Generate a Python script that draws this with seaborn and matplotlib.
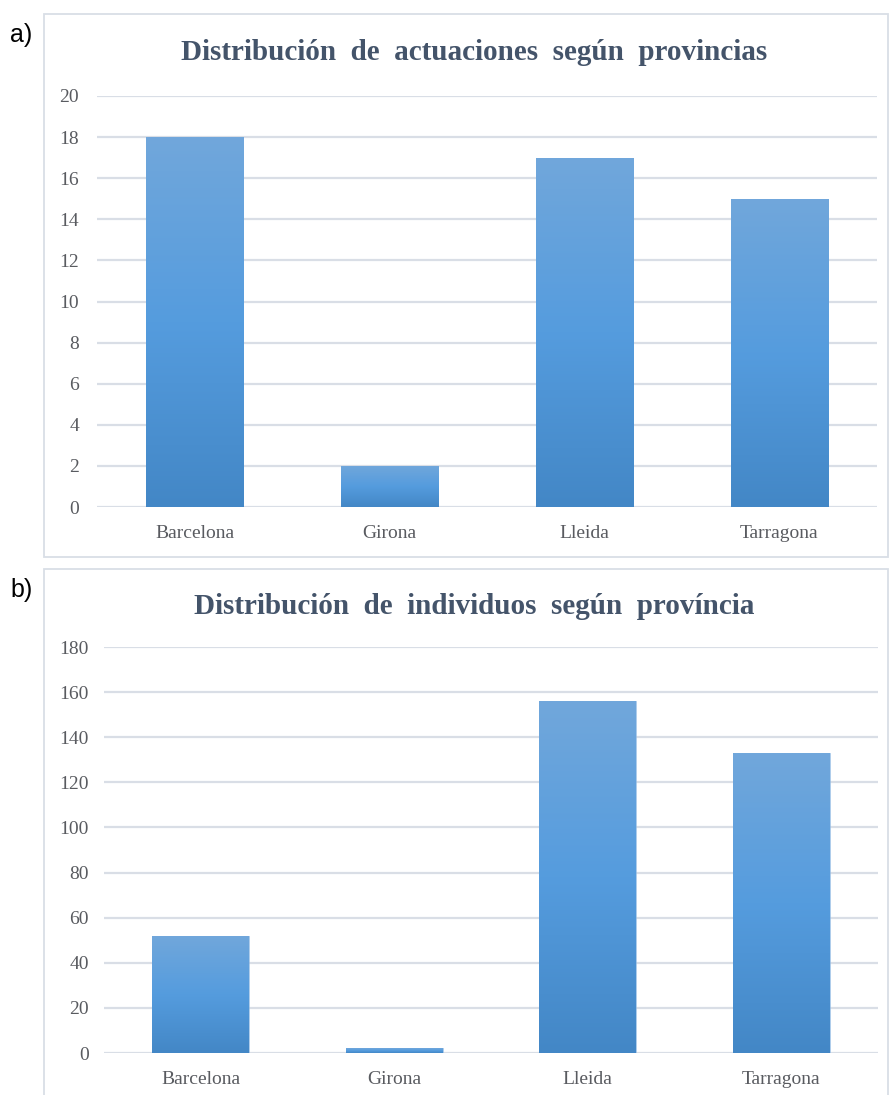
import numpy as np
import pandas as pd
import matplotlib
matplotlib.use("Agg")
import matplotlib.pyplot as plt
import seaborn as sns
from matplotlib.colors import LinearSegmentedColormap
from matplotlib.patches import Rectangle

# Data
provincias = ["Barcelona", "Girona", "Lleida", "Tarragona"]
actuaciones = [18, 2, 17, 15]
individuos = [52, 2, 156, 133]
ticks_a = [0, 2, 4, 6, 8, 10, 12, 14, 16, 18, 20]
ticks_b = [0, 20, 40, 60, 80, 100, 120, 140, 160, 180]
title_a = "Distribución  de  actuaciones  según  provincias"
title_b = "Distribución  de  individuos  según  província"

sns.set_theme(style="white")
plt.rcParams["font.family"] = ["Liberation Serif", "DejaVu Serif"]

W, H = 890, 1095
fig = plt.figure(figsize=(W / 100, H / 100), dpi=100)

GRID = "#D9DEE6"
TICK = "#595B60"
TITLE = "#44546A"
grad = LinearSegmentedColormap.from_list(
    "bar_grad", ["#4387C6", "#559CDE", "#71A7DB"])


def px_axes(x0, y0, x1, y1):
    return fig.add_axes([x0 / W, 1 - y1 / H, (x1 - x0) / W, (y1 - y0) / H])


def panel_border(x0, y0, x1, y1):
    fig.patches.append(Rectangle((x0 / W, 1 - y1 / H), (x1 - x0) / W, (y1 - y0) / H,
                                 transform=fig.transFigure, fill=False,
                                 edgecolor=GRID, linewidth=1.3, zorder=0))


def draw_panel(ax, values, ticks, ypad, xpad):
    df = pd.DataFrame({"provincia": provincias, "valor": values})
    sns.barplot(data=df, x="provincia", y="valor", ax=ax, width=0.5,
                color="#5B9BD5", saturation=1, zorder=2)
    ax.set_yticks(ticks)
    ax.yaxis.grid(True, color=GRID, linewidth=1.6, zorder=0)
    ax.set_axisbelow(True)
    for s in ax.spines.values():
        s.set_visible(False)
    ax.tick_params(axis="both", length=0, labelsize=14, colors=TICK)
    ax.tick_params(axis="y", pad=ypad)
    ax.tick_params(axis="x", pad=xpad)
    ax.set_xlabel("")
    ax.set_ylabel("")
    # vertical gradient fill inside each bar
    gimg = np.linspace(0, 1, 256).reshape(-1, 1)
    for p in list(ax.patches):
        x0, y0 = p.get_x(), p.get_y()
        w, h = p.get_width(), p.get_height()
        if h <= 0:
            continue
        p.set_facecolor("none")
        p.set_edgecolor("#8DB8E3")
        p.set_linewidth(0.5)
        im = ax.imshow(gimg, cmap=grad, origin="lower", aspect="auto",
                       extent=[x0, x0 + w, y0, y0 + h], zorder=2,
                       interpolation="bilinear")
        im.set_clip_path(p)
    ax.set_xlim(-0.5, len(provincias) - 0.5)
    ax.set_ylim(ticks[0], ticks[-1])


# Panel a
panel_border(44, 14, 888, 557)
ax_a = px_axes(97, 96, 877, 507)
draw_panel(ax_a, actuaciones, ticks_a, ypad=13, xpad=13)
fig.text(474 / W, 1 - 53 / H, title_a, ha="center", va="center",
         fontsize=21, fontweight="bold", color=TITLE)
fig.text(10 / W, 1 - 35 / H, "a)", ha="left", va="center", fontsize=18,
         color="black", family=["Liberation Sans", "DejaVu Sans"])

# Panel b
panel_border(44, 569, 888, 1120)
ax_b = px_axes(104, 647, 878, 1053)
draw_panel(ax_b, individuos, ticks_b, ypad=11, xpad=13)
fig.text(474 / W, 1 - 606 / H, title_b, ha="center", va="center",
         fontsize=21, fontweight="bold", color=TITLE)
fig.text(10 / W, 1 - 590 / H, "b)", ha="left", va="center", fontsize=18,
         color="black", family=["Liberation Sans", "DejaVu Sans"])

fig.savefig("out.png", dpi=100)
